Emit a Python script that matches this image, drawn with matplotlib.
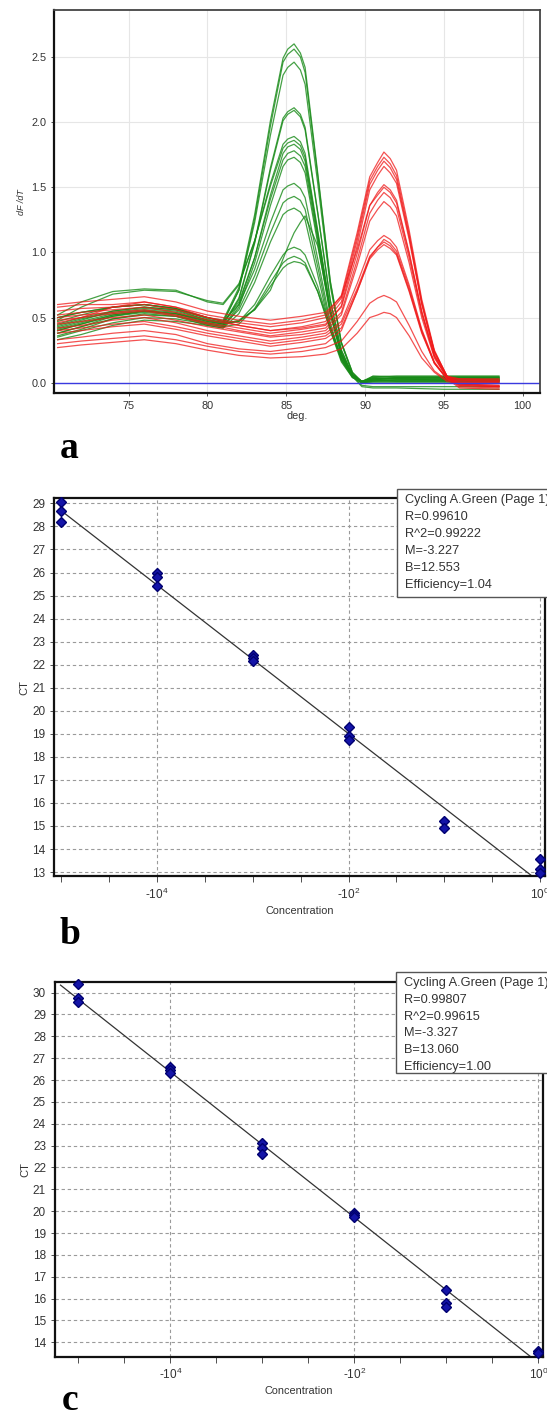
import numpy as np
import matplotlib.pyplot as plt
from matplotlib.patches import Rectangle
from matplotlib.ticker import FixedLocator, NullFormatter

# ---- panel a : melt curve derivative (dF/dT) ----
green_temp = [70.5, 72, 74, 76, 78, 80, 81, 82, 83, 84, 84.8, 85.1, 85.5, 85.9, 86.2, 87, 87.8, 88.5, 89.2, 89.8, 90.5, 92, 95, 98.5]
green_curves = [
    [.45, .50, .55, .58, .56, .50, .48, .73, 1.29, 2.01, 2.49, 2.56, 2.60, 2.53, 2.42, 1.61, .78, .31, .08, .01, .03, .03, .02, .02],
    [.40, .45, .51, .55, .53, .48, .46, .71, 1.26, 1.97, 2.46, 2.52, 2.56, 2.50, 2.38, 1.59, .77, .31, .08, .00, .02, .04, .04, .04],
    [.50, .54, .58, .60, .57, .50, .47, .71, 1.23, 1.90, 2.36, 2.42, 2.46, 2.40, 2.29, 1.53, .74, .30, .07, .01, .04, .05, .05, .05],
    [.42, .47, .53, .56, .54, .47, .45, .65, 1.08, 1.65, 2.03, 2.08, 2.11, 2.06, 1.96, 1.31, .63, .25, .06, .00, .01, .02, .02, .02],
    [.38, .43, .49, .52, .51, .46, .44, .64, 1.07, 1.63, 2.01, 2.06, 2.09, 2.04, 1.94, 1.30, .63, .25, .06, .01, .03, .03, .03, .03],
    [.52, .62, .70, .72, .71, .62, .60, .75, 1.09, 1.53, 1.83, 1.87, 1.89, 1.85, 1.76, 1.17, .57, .23, .06, .00, .05, .04, .04, .04],
    [.48, .58, .68, .71, .70, .63, .61, .76, 1.09, 1.51, 1.80, 1.84, 1.86, 1.82, 1.73, 1.15, .56, .22, .06, .01, .02, .01, .01, .01],
    [.35, .40, .46, .50, .49, .45, .43, .60, .96, 1.44, 1.76, 1.81, 1.83, 1.79, 1.70, 1.13, .55, .22, .05, .00, .00, .00, .00, .00],
    [.44, .49, .54, .57, .55, .48, .46, .62, .96, 1.41, 1.71, 1.76, 1.78, 1.74, 1.66, 1.10, .53, .21, .05, .01, .04, .03, .03, .03],
    [.33, .37, .44, .48, .47, .44, .42, .58, .92, 1.36, 1.66, 1.71, 1.73, 1.69, 1.61, 1.07, .52, .21, .05, .00, .02, .02, .02, .02],
    [.47, .52, .58, .60, .57, .50, .47, .60, .87, 1.23, 1.48, 1.51, 1.53, 1.49, 1.42, .95, .46, .18, .05, .01, .05, .05, .05, .05],
    [.40, .45, .52, .55, .53, .46, .44, .56, .82, 1.15, 1.38, 1.41, 1.43, 1.40, 1.33, .89, .43, .17, .04, .00, .01, .01, .01, .01],
    [.36, .41, .49, .53, .51, .44, .42, .53, .77, 1.08, 1.29, 1.32, 1.34, 1.31, 1.25, .83, .40, .16, .04, .01, .03, .04, .04, .04],
    [.43, .48, .55, .58, .56, .48, .45, .47, .60, .82, .98, 1.02, 1.04, 1.02, .98, .74, .42, .19, .05, .00, .02, .02, .02, .02],
    [.38, .43, .51, .54, .52, .45, .43, .45, .57, .77, .92, .95, .97, .95, .92, .70, .40, .18, .05, -.03, -.04, -.04, -.05, -.05],
    [.50, .54, .58, .60, .57, .49, .46, .47, .56, .74, .88, .91, .93, .92, .90, .70, .42, .20, .06, .01, .03, .03, .03, .03],
    [.41, .46, .52, .55, .53, .47, .45, .48, .56, .71, .95, 1.04, 1.15, 1.23, 1.28, 1.05, .55, .22, .05, -.02, -.03, -.03, -.03, -.03],
]

red_temp = [70.5, 72, 74, 76, 78, 80, 82, 84, 86, 87.5, 88.5, 89.5, 90.3, 90.8, 91.2, 91.6, 92, 92.8, 93.6, 94.4, 95.2, 96, 98.5]
red_curves = [
    [.58, .60, .60, .62, .58, .52, .48, .45, .48, .52, .67, 1.15, 1.58, 1.69, 1.77, 1.72, 1.63, 1.17, .64, .25, .05, .00, .00],
    [.55, .57, .58, .60, .56, .50, .46, .43, .46, .50, .65, 1.12, 1.55, 1.66, 1.73, 1.68, 1.59, 1.14, .62, .24, .05, -.01, -.02],
    [.52, .54, .56, .58, .54, .48, .44, .40, .43, .47, .62, 1.09, 1.52, 1.63, 1.70, 1.65, 1.56, 1.12, .61, .24, .05, .02, .02],
    [.50, .52, .54, .56, .52, .46, .42, .38, .41, .44, .59, 1.05, 1.48, 1.59, 1.66, 1.61, 1.53, 1.10, .60, .23, .05, -.02, -.03],
    [.60, .62, .64, .66, .62, .55, .51, .48, .51, .54, .66, 1.02, 1.36, 1.44, 1.50, 1.46, 1.38, .99, .54, .21, .04, .01, .01],
    [.48, .50, .53, .55, .51, .45, .40, .36, .39, .42, .54, .94, 1.30, 1.40, 1.46, 1.42, 1.34, .96, .53, .20, .04, -.03, -.04],
    [.45, .47, .50, .52, .48, .43, .39, .35, .37, .40, .52, .90, 1.24, 1.33, 1.39, 1.35, 1.28, .92, .50, .19, .04, .03, .03],
    [.42, .44, .48, .50, .46, .40, .36, .32, .35, .38, .47, .76, 1.02, 1.09, 1.13, 1.10, 1.04, .75, .41, .16, .03, -.01, -.02],
    [.40, .42, .45, .47, .43, .38, .34, .30, .33, .36, .45, .72, .97, 1.04, 1.08, 1.05, .99, .71, .39, .15, .03, .00, .00],
    [.38, .40, .43, .45, .41, .36, .32, .28, .31, .34, .42, .70, .95, 1.02, 1.06, 1.03, .98, .70, .38, .15, .03, -.04, -.05],
    [.30, .32, .34, .36, .33, .28, .24, .22, .24, .27, .32, .47, .61, .65, .67, .65, .62, .44, .24, .09, .02, .02, .01],
    [.27, .29, .31, .33, .30, .25, .21, .19, .20, .22, .26, .38, .50, .52, .54, .53, .50, .36, .19, .08, .01, -.01, -.03],
    [.46, .50, .58, .62, .58, .50, .44, .40, .42, .45, .58, .99, 1.36, 1.46, 1.52, 1.48, 1.40, 1.00, .55, .21, .05, .03, .02],
    [.33, .35, .38, .40, .37, .30, .26, .24, .27, .30, .40, .70, .96, 1.04, 1.10, 1.07, 1.01, .73, .40, .15, .03, -.02, -.03],
]

# ---- panel b : standard curve ----
b_conc = [1e-5, 1e-5, 1e-5, 1e-4, 1e-4, 1e-4, 1e-3, 1e-3, 1e-3, 1e-2, 1e-2, 1e-2, 1e-1, 1e-1, 1, 1, 1]
b_ct = [29.04, 28.67, 28.2, 25.96, 25.79, 25.43, 22.42, 22.3, 22.18, 19.3, 18.9, 18.72, 15.2, 14.92, 13.56, 13.13, 12.96]
b_stats = ["Cycling A.Green (Page 1)", "R=0.99610", "R^2=0.99222", "M=-3.227", "B=12.553", "Efficiency=1.04"]
b_M, b_B = -3.227, 12.553

# ---- panel c : standard curve ----
c_conc = [1e-5, 1e-5, 1e-5, 1e-4, 1e-4, 1e-4, 1e-3, 1e-3, 1e-3, 1e-2, 1e-2, 1e-2, 1e-1, 1e-1, 1e-1, 1, 1]
c_ct = [30.38, 29.74, 29.59, 26.61, 26.46, 26.34, 23.1, 22.88, 22.62, 19.92, 19.82, 19.74, 16.4, 15.8, 15.62, 13.62, 13.52]
c_stats = ["Cycling A.Green (Page 1)", "R=0.99807", "R^2=0.99615", "M=-3.327", "B=13.060", "Efficiency=1.00"]
c_M, c_B = -3.327, 13.060

W, H = 547, 1422
fig = plt.figure(figsize=(W / 100, H / 100), dpi=100)
plt.rcParams['font.family'] = ['Liberation Sans', 'DejaVu Sans']


def box(l, t, r, b):
    return [l / W, 1 - b / H, (r - l) / W, (b - t) / H]


# panel a
ax = fig.add_axes(box(54, 10, 539.5, 393.3))
for ys in green_curves:
    ax.plot(green_temp, ys, color='#178a17', lw=0.9, alpha=0.8, solid_joinstyle='round')
for ys in red_curves:
    ax.plot(red_temp, ys, color='#f01818', lw=0.9, alpha=0.75, solid_joinstyle='round')
ax.axhline(0, color='#3a3ae0', lw=1.0)
ax.set_xlim(70.27, 101.07)
ax.set_ylim(-0.081, 2.86)
ax.set_xticks([75, 80, 85, 90, 95, 100])
ax.set_yticks([0.0, 0.5, 1.0, 1.5, 2.0, 2.5])
ax.set_yticklabels(['0.0', '0.5', '1.0', '1.5', '2.0', '2.5'])
ax.grid(True, color='#e6e6e6', lw=0.8)
ax.set_axisbelow(True)
ax.tick_params(labelsize=7.8, colors='#333333', length=2, width=0.6)
ax.set_xlabel('deg.', fontsize=7.8, color='#333333', labelpad=0)
ax.set_ylabel('dF /dT', fontsize=6.5, color='#333333', style='italic', labelpad=4)
for side in ['left', 'bottom']:
    ax.spines[side].set_linewidth(1.6)
    ax.spines[side].set_color('#111111')
for side in ['top', 'right']:
    ax.spines[side].set_linewidth(1.3)
    ax.spines[side].set_color('#444444')


def std_panel(rect, conc, ct, M, B, stats, ylim, yticks, xlo, xhi, leg):
    ax = fig.add_axes(rect)
    ax.set_xscale('log')
    lc = np.array([xlo + 0.06, 0.0])
    ax.plot(10 ** lc, M * lc + B, color='#333333', lw=0.9, zorder=2)
    ax.plot(conc, ct, 'D', color='#1414a8', mec='#000070', ms=5, zorder=3, clip_on=False)
    ax.set_xlim(10 ** xlo, 10 ** xhi)
    ax.set_ylim(*ylim)
    ax.set_yticks(yticks)
    ax.xaxis.set_major_locator(FixedLocator([1e-4, 1e-2, 1]))
    ax.xaxis.set_minor_locator(FixedLocator(10 ** np.arange(-5, 0.01, 0.5)))
    ax.xaxis.set_minor_formatter(NullFormatter())
    ax.set_xticklabels([r'-10$^{\mathregular{4}}$', r'-10$^{\mathregular{2}}$', r'10$^{\mathregular{0}}$'])
    ax.grid(True, which='major', color='#9a9a9a', ls=(0, (3, 2.5)), lw=0.8)
    ax.set_axisbelow(True)
    ax.tick_params(which='both', labelsize=8.5, colors='#333333', length=4, width=0.6)
    ax.tick_params(axis='y', length=3)
    ax.set_xlabel('Concentration', fontsize=7.8, color='#333333', labelpad=3)
    ax.set_ylabel('CT', fontsize=8, color='#333333', labelpad=2)
    for s in ax.spines.values():
        s.set_linewidth(1.6)
        s.set_color('#111111')
    # stats box
    l, t, b = leg
    fig.patches.append(Rectangle((l / W, 1 - b / H), (W + 10 - l) / W, (b - t) / H,
                                 transform=fig.transFigure, facecolor='white',
                                 edgecolor='#555555', lw=1.0, zorder=5))
    for i, s in enumerate(stats):
        fig.text((l + 8) / W, 1 - (t + 11 + i * 16.9) / H, s, fontsize=9.2,
                 color='#333333', va='center', ha='left', zorder=6)
    return ax


std_panel(box(54.3, 498.3, 545, 876), b_conc, b_ct, b_M, b_B, b_stats,
          (12.83, 29.22), range(13, 30), -5.07, 0.05, (396.7, 489, 597))
std_panel(box(55, 981.7, 543, 1356.7), c_conc, c_ct, c_M, c_B, c_stats,
          (13.34, 30.5), range(14, 31), -5.255, 0.05, (396, 971.7, 1073))

for lab, x, y in [('a', 69, 449), ('b', 70, 934), ('c', 70, 1400)]:
    fig.text(x / W, 1 - y / H, lab, fontsize=27, fontweight='bold',
             family='Liberation Serif', ha='center', va='center')

fig.savefig('out.png', dpi=100, facecolor='white')
